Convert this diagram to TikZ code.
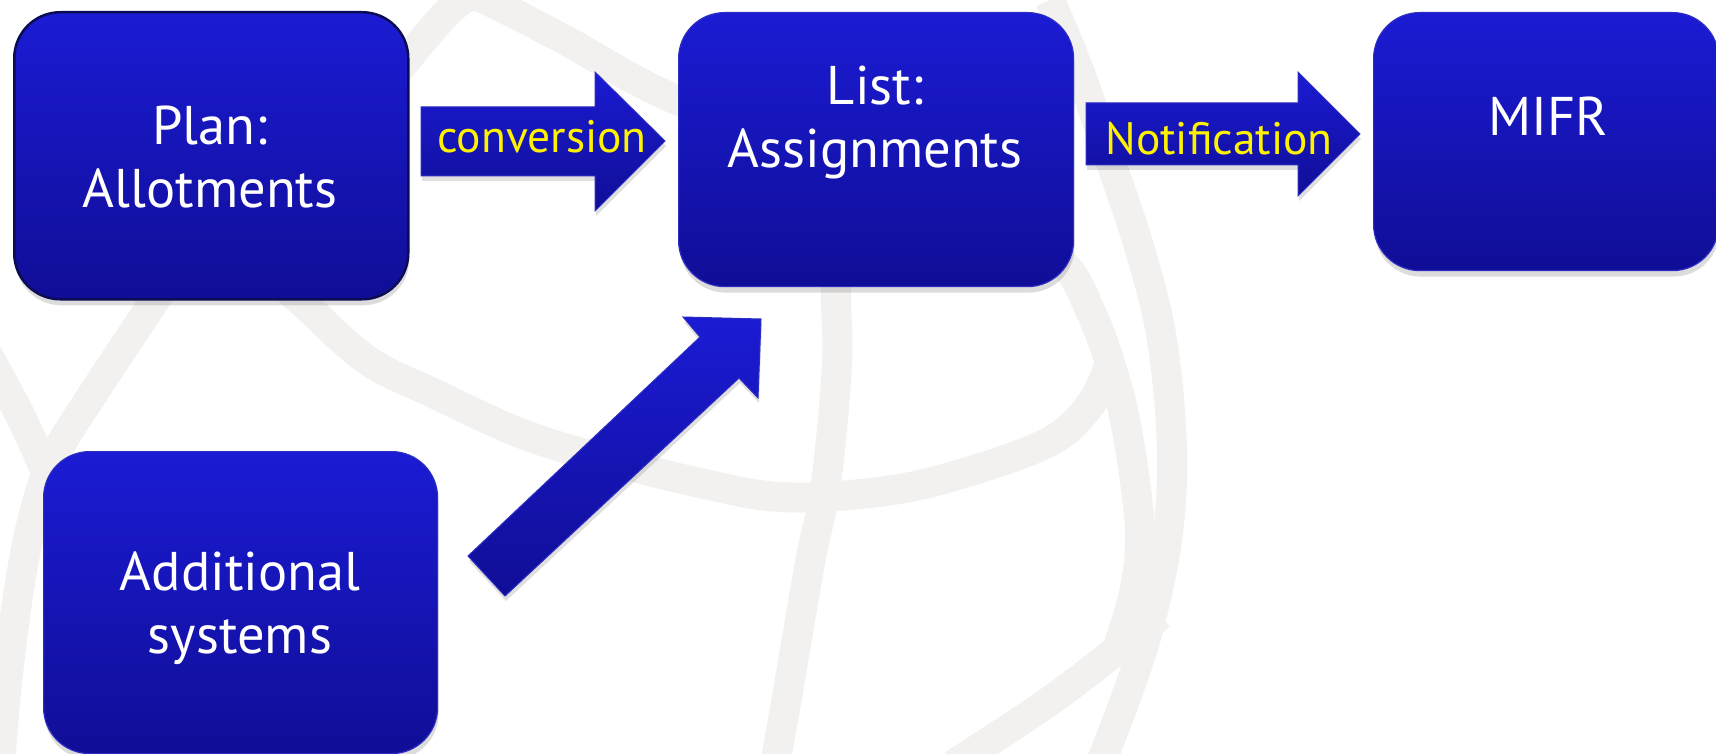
\documentclass[tikz,border=0pt]{standalone}
\usepackage{fontspec}
\setmainfont{PT Sans}
\usetikzlibrary{shadows}
\definecolor{boxtop}{RGB}{27,27,212}
\definecolor{boxbot}{RGB}{16,14,150}
\definecolor{boxedge}{RGB}{45,45,195}
\definecolor{bevel}{RGB}{12,12,85}
\definecolor{bgc}{RGB}{242,241,239}
\tikzset{
  bgcurve/.style={draw=bgc, line width=30pt},
  boxshadow/.style={drop shadow={shadow xshift=1pt, shadow yshift=-6pt, opacity=0.28}},
  bluebox/.style={rounded corners=46pt, top color=boxtop, bottom color=boxbot,
    draw=boxedge, line width=1.2pt, boxshadow, anchor=north west, inner sep=0pt},
  bluearrow/.style={top color=boxtop, bottom color=boxbot, draw=boxedge, line width=1pt,
    drop shadow={shadow xshift=1pt, shadow yshift=-5pt, opacity=0.25}},
  boxtext/.style={text=white, font=\fontsize{54.5}{63}\selectfont, align=center, inner sep=0pt},
  arrowtext/.style={text=yellow, font=\fontsize{45.5}{52}\selectfont, inner sep=0pt},
}
\begin{document}
\begin{tikzpicture}[x=1pt,y=-1pt]
\useasboundingbox (0,0) rectangle (1716,754);
% faint globe in the background
\begin{scope}
\clip (0,0) rectangle (1716,754);
\draw[bgcurve] plot[smooth, tension=0.6] coordinates {(200,200) (250,255) (303,303) (367,360) (433,393) (520,433) (600,458) (700,483) (780,497) (870,493) (947,478) (1047,443) (1090,405) (1110,363)};
\draw[bgcurve] plot[smooth, tension=0.6] coordinates {(370,105) (400,68) (423,40) (450,10) (472,-4) (497,5) (565,40) (677,100) (860,165) (1000,215) (1063,263) (1090,310) (1110,363) (1125,420) (1137,497) (1140,547) (1133,597) (1117,650)};
\draw[bgcurve] plot[smooth, tension=0.6] coordinates {(1160,615) (1117,650) (1047,703) (953,765)};
\draw[bgcurve] plot[smooth, tension=0.6] coordinates {(1050,0) (1080,73) (1110,160) (1140,250) (1162,340) (1172,450) (1167,540) (1148,630) (1125,700) (1100,765)};
\draw[bgcurve] plot[smooth, tension=0.6] coordinates {(840,150) (836,287) (837,363) (826,483) (810,563) (787,697) (775,765)};
\draw[bgcurve] plot[smooth, tension=0.6] coordinates {(220,200) (153,303) (100,383) (55,455) (35,510) (20,583) (7,683) (0,765)};
\draw[bgcurve] plot[smooth, tension=0.6] coordinates {(-15,350) (20,415) (45,470)};
\end{scope}

% boxes
\node[bluebox, draw=bevel, line width=2.5pt, minimum width=394pt, minimum height=287pt] (plan) at (13,11) {};
\node[bluebox, minimum width=395pt, minimum height=274pt] (list) at (678,12) {};
\node[bluebox, minimum width=345pt, minimum height=258pt] (mifr) at (1373,12) {};
\node[bluebox, minimum width=394pt, minimum height=302pt] (addsys) at (43,451) {};

% block arrows
\path[bluearrow] (421,107) -- (595,107) -- (595,72) -- (665,141) -- (595,211) -- (595,176) -- (421,176) -- cycle;
\path[bluearrow] (1086,103) -- (1298,103) -- (1298,72) -- (1360,134) -- (1298,196) -- (1298,165) -- (1086,165) -- cycle;
\path[bluearrow] (468,556) -- (700,337) -- (683,317) -- (761,319) -- (758,398) -- (739,378) -- (505,596) -- cycle;

% texts
\node[boxtext, anchor=base] (plantext) at (210,208) {Plan:\\Allotments};
\node[boxtext, anchor=base] (listtext) at (875,168) {List:\\Assignments};
\node[boxtext, anchor=base] (mifrtext) at (1548,136) {MIFR};
\node[boxtext, anchor=base] (addtext) at (240,653) {Additional\\systems};
\node[arrowtext, anchor=base] (conv) at (542,153) {conversion};
\node[arrowtext, anchor=base] (notif) at (1219,155) {Notification};
\end{tikzpicture}
\end{document}
